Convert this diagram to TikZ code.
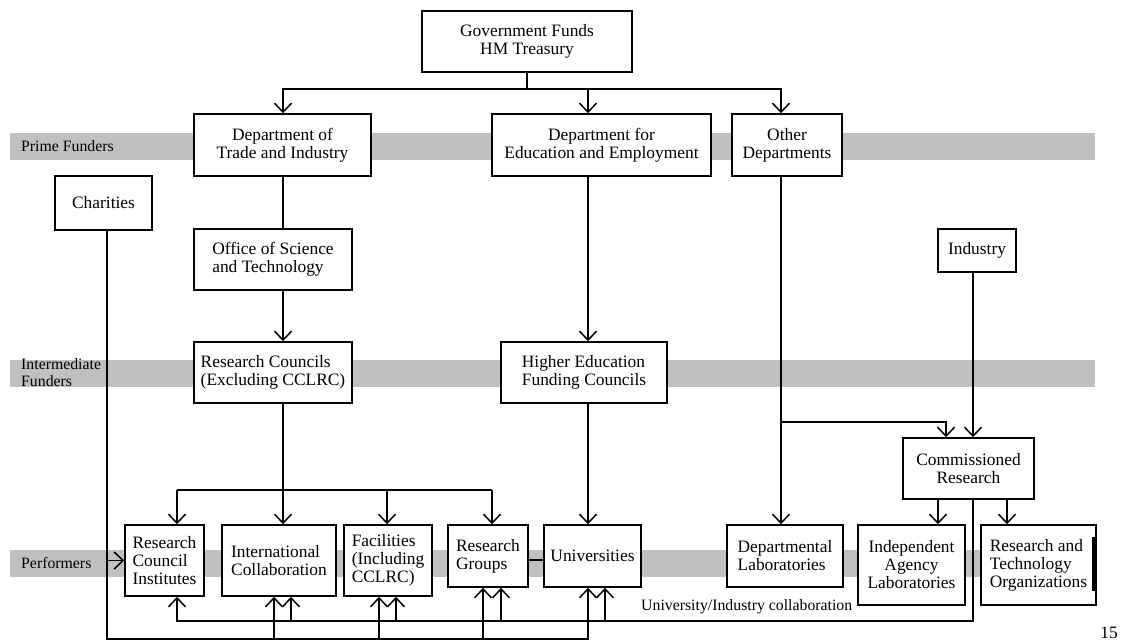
\documentclass[tikz,border=0pt]{standalone}
\usepackage{fontspec}
\setmainfont{Liberation Serif}
\usetikzlibrary{arrows.meta}
\definecolor{bandgray}{RGB}{192,192,192}
\begin{document}
\begin{tikzpicture}[x=1pt,y=-1pt,
  bx/.style={draw=black, line width=1.5pt, fill=white, inner sep=0pt, font=\fontsize{17.4}{18}\selectfont},
  bxc/.style={bx, align=center},
  bxl/.style={bx, align=left},
  band/.style={fill=bandgray, draw=none},
  bandlbl/.style={anchor=west, inner sep=0pt, font=\fontsize{15.8}{17}\selectfont, align=left},
  conn/.style={line width=1.5pt},
  arr/.style={conn, -{Straight Barb[length=9pt,width=17pt]}}
]
\fill[white] (0,0) rectangle (1127,641);
\useasboundingbox (0,0) rectangle (1127,641);

% bands
\fill[band] (10,133) rectangle (1095,160);
\fill[band] (10,360) rectangle (1095,387);
\fill[band] (10,550) rectangle (1095,577);
\node[bandlbl] (pf) at (21,146) {Prime Funders};
\node[bandlbl] (imf) at (21,373) {Intermediate\\Funders};
\node[bandlbl] (perf) at (21,563) {Performers};

% column / row coordinates
\coordinate (c107) at (107,0);
\coordinate (c177) at (177,0);
\coordinate (c274) at (274,0);
\coordinate (c283) at (283,0);
\coordinate (c291) at (291,0);
\coordinate (c379) at (379,0);
\coordinate (c387) at (387,0);
\coordinate (c396) at (396,0);
\coordinate (c483) at (483,0);
\coordinate (c492) at (492,0);
\coordinate (c501) at (501,0);
\coordinate (c527) at (527,0);
\coordinate (c588) at (588,0);
\coordinate (c605) at (605,0);
\coordinate (c781) at (781,0);
\coordinate (c938) at (938,0);
\coordinate (c946) at (946,0);
\coordinate (c973) at (973,0);
\coordinate (c1007) at (1007,0);
\coordinate (r89) at (0,89);
\coordinate (r422) at (0,422);
\coordinate (r490) at (0,490);
\coordinate (r560) at (0,560);
\coordinate (r621) at (0,621);
\coordinate (r639) at (0,639);

% boxes
\node[bxc, minimum width=210pt, minimum height=61pt] (gov) at (527,41.5) {Government Funds\\HM Treasury};
\node[bxc, minimum width=177pt, minimum height=62pt] (dti) at (282.5,145) {Department of\\Trade and Industry};
\node[bxc, minimum width=219pt, minimum height=62pt] (dfee) at (601.5,145) {Department for\\Education and Employment};
\node[bxc, minimum width=110pt, minimum height=62pt] (other) at (787,145) {Other\\Departments};
\node[bxc, minimum width=97pt, minimum height=54pt] (char) at (103.5,203) {Charities};
\node[bxl, minimum width=158pt, minimum height=61pt] (ost) at (273,259.5) {Office of Science\\and Technology};
\node[bxc, minimum width=78pt, minimum height=43pt] (ind) at (977,250.5) {Industry};
\node[bxl, minimum width=158pt, minimum height=61pt] (rc) at (273,372.5) {Research Councils\\(Excluding CCLRC)};
\node[bxl, minimum width=166pt, minimum height=61pt] (hefc) at (584,372.5) {Higher Education\\Funding Councils};
\node[bxc, minimum width=131pt, minimum height=61pt] (cr) at (968.5,468.5) {Commissioned\\Research};
\node[bxl, minimum width=79pt, minimum height=71pt] (rci) at (164.5,560.5) {Research\\Council\\Institutes};
\node[bxl, minimum width=114pt, minimum height=71pt] (ic) at (279,560.5) {International\\Collaboration};
\node[bxl, minimum width=88pt, minimum height=71pt] (fac) at (388,560.5) {Facilities\\(Including\\CCLRC)};
\node[bxl, minimum width=80pt, minimum height=62pt] (rg) at (488,556) {Research\\Groups};
\node[bxc, minimum width=97pt, minimum height=62pt] (univ) at (592.5,556) {Universities};
\node[bxl, minimum width=116pt, minimum height=62pt] (dl) at (785,556) {Departmental\\Laboratories};
\node[bxc, minimum width=107pt, minimum height=80pt] (ial) at (911.5,565) {Independent\\Agency\\Laboratories};
\node[bxl, minimum width=115pt, minimum height=80pt] (rto) at (1038.5,565) {Research and\\Technology\\Organizations};
\draw[line width=3pt] ([xshift=-3pt,yshift=-13pt]rto.north east) -- ([xshift=-3pt,yshift=15pt]rto.south east);

% treasury to prime funders
\draw[conn] (c527 |- gov.south) -- (c527 |- r89);
\draw[arr] (c527 |- r89) -| (c283 |- dti.north);
\draw[arr] (c527 |- r89) -| (c588 |- dfee.north);
\draw[arr] (c527 |- r89) -| (c781 |- other.north);

% DTI chain
\draw[conn] (c283 |- dti.south) -- (c283 |- ost.north);
\draw[arr] (c283 |- ost.south) -- (c283 |- rc.north);

% DfEE chain
\draw[arr] (c588 |- dfee.south) -- (c588 |- hefc.north);
\draw[arr] (c588 |- hefc.south) -- (c588 |- univ.north);

% research councils branches
\draw[conn] (c283 |- rc.south) -- (c283 |- r490);
\draw[conn] (c177 |- r490) -- (c492 |- r490);
\draw[arr] (c177 |- r490) -- (c177 |- rci.north);
\draw[arr] (c283 |- r490) -- (c283 |- ic.north);
\draw[arr] (c387 |- r490) -- (c387 |- fac.north);
\draw[arr] (c492 |- r490) -- (c492 |- rg.north);

% other departments and industry
\draw[arr] (c781 |- other.south) -- (c781 |- dl.north);
\draw[arr] (c781 |- r422) -| (c946 |- cr.north);
\draw[arr] (c973 |- ind.south) -- (c973 |- cr.north);
\draw[arr] (c938 |- cr.south) -- (c938 |- ial.north);
\draw[arr] (c1007 |- cr.south) -- (c1007 |- rto.north);

% university / industry collaboration loop
\draw[arr] (c973 |- cr.south) |- (c177 |- r621) -- (c177 |- rci.south);
\draw[arr] (c291 |- r621) -- (c291 |- ic.south);
\draw[arr] (c396 |- r621) -- (c396 |- fac.south);
\draw[arr] (c501 |- r621) -- (c501 |- rg.south);
\draw[arr] (c605 |- r621) -- (c605 |- univ.south);

% charities
\draw[arr] (c107 |- char.south) |- (c588 |- r639) -- (c588 |- univ.south);
\draw[arr] (c274 |- r639) -- (c274 |- ic.south);
\draw[arr] (c379 |- r639) -- (c379 |- fac.south);
\draw[arr] (c483 |- r639) -- (c483 |- rg.south);
\draw[arr] (c107 |- rci.west) -- (rci.west);

% groups - universities
\draw[conn] (rg.east |- r560) -- (univ.west |- r560);

% labels
\node[anchor=west, inner sep=0pt, font=\fontsize{15.8}{17}\selectfont] (uic) at (641,607) {University/Industry collaboration};
\node[inner sep=0pt, font=\fontsize{17.4}{18}\selectfont] (pg) at (1109,633) {15};
\end{tikzpicture}
\end{document}
